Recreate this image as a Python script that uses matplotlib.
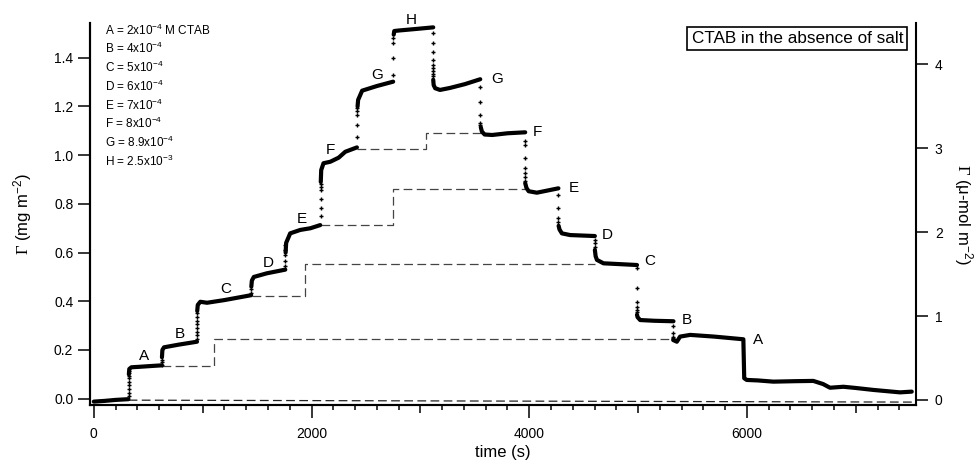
import matplotlib
matplotlib.use("Agg")
import matplotlib.pyplot as plt
from matplotlib.ticker import MultipleLocator

plt.rcParams['font.family'] = ['Liberation Sans', 'DejaVu Sans']
plt.rcParams['mathtext.fontset'] = 'custom'
plt.rcParams['mathtext.rm'] = 'Liberation Sans'
plt.rcParams['mathtext.it'] = 'Liberation Sans:italic'
plt.rcParams['mathtext.bf'] = 'Liberation Sans:bold'
plt.rcParams['mathtext.sf'] = 'Liberation Serif'

# ---------------- data (time in s, adsorbed amount in mg m^-2) ----------------
# solid plateaus (adsorption branch)
seg_base_t = [0, 100, 200, 318]
seg_base_y = [-0.012, -0.009, -0.005, -0.002]
seg_A_t = [322, 326, 345, 420, 520, 625]
seg_A_y = [0.100, 0.122, 0.129, 0.131, 0.134, 0.137]
seg_B_t = [626, 630, 645, 780, 948]
seg_B_y = [0.170, 0.200, 0.211, 0.222, 0.234]
seg_C_t = [950, 955, 978, 1040, 1200, 1445]
seg_C_y = [0.360, 0.385, 0.398, 0.394, 0.405, 0.425]
seg_D_t = [1447, 1452, 1470, 1590, 1759]
seg_D_y = [0.460, 0.485, 0.500, 0.515, 0.530]
seg_E_t = [1762, 1767, 1804, 1896, 1990, 2080]
seg_E_y = [0.600, 0.640, 0.679, 0.693, 0.700, 0.713]
seg_F_t = [2085, 2089, 2110, 2172, 2250, 2310, 2417]
seg_F_y = [0.890, 0.939, 0.967, 0.973, 0.990, 1.014, 1.032]
seg_G_t = [2423, 2428, 2465, 2600, 2750]
seg_G_y = [1.200, 1.227, 1.265, 1.284, 1.302]
seg_H_t = [2755, 2760, 2800, 2950, 3118]
seg_H_y = [1.495, 1.510, 1.512, 1.518, 1.525]
# solid plateaus (desorption branch)
seg_G2_t = [3118, 3122, 3136, 3180, 3270, 3410, 3550]
seg_G2_y = [1.310, 1.288, 1.275, 1.268, 1.276, 1.292, 1.312]
seg_F2_t = [3555, 3565, 3590, 3660, 3800, 3963]
seg_F2_y = [1.115, 1.097, 1.085, 1.083, 1.090, 1.094]
seg_E2_t = [3963, 3975, 3995, 4070, 4268]
seg_E2_y = [0.885, 0.865, 0.852, 0.846, 0.864]
seg_D2_t = [4270, 4278, 4300, 4376, 4603]
seg_D2_y = [0.710, 0.695, 0.679, 0.672, 0.668]
seg_C2_t = [4603, 4610, 4622, 4682, 4990]
seg_C2_y = [0.611, 0.585, 0.570, 0.556, 0.549]
seg_B2_t = [4990, 4995, 5019, 5150, 5325]
seg_B2_y = [0.345, 0.335, 0.323, 0.320, 0.318]
seg_A2_t = [5322, 5356, 5386, 5478, 5700, 5967, 5975, 5998, 6100, 6243, 6450, 6610,
            6700, 6763, 6886, 7000, 7161, 7406, 7514]
seg_A2_y = [0.241, 0.234, 0.255, 0.262, 0.255, 0.244, 0.084, 0.077, 0.075, 0.070, 0.072,
            0.073, 0.060, 0.045, 0.049, 0.044, 0.036, 0.026, 0.029]

solid_t = [seg_base_t, seg_A_t, seg_B_t, seg_C_t, seg_D_t, seg_E_t, seg_F_t, seg_G_t, seg_H_t,
           seg_G2_t, seg_F2_t, seg_E2_t, seg_D2_t, seg_C2_t, seg_B2_t, seg_A2_t]
solid_y = [seg_base_y, seg_A_y, seg_B_y, seg_C_y, seg_D_y, seg_E_y, seg_F_y, seg_G_y, seg_H_y,
           seg_G2_y, seg_F2_y, seg_E2_y, seg_D2_y, seg_C2_y, seg_B2_y, seg_A2_y]

# sparse points recorded during the concentration switches
jump_t = [320, 625, 948, 1447, 1760, 2083, 2420, 2752, 3118, 3552, 3963, 4268, 4603, 4990, 5325]
jump_y = [
    [0.010, 0.025, 0.040, 0.055, 0.070, 0.085, 0.095, 0.105, 0.115],
    [0.140, 0.150, 0.160],
    [0.245, 0.260, 0.275, 0.290, 0.305, 0.320, 0.335, 0.350],
    [0.435, 0.450],
    [0.545, 0.565, 0.590, 0.610, 0.630],
    [0.750, 0.785, 0.819, 0.857, 0.870, 0.880],
    [1.076, 1.124, 1.165, 1.180, 1.193],
    [1.330, 1.398, 1.460, 1.480],
    [1.500, 1.460, 1.425, 1.391, 1.370, 1.357, 1.345, 1.335, 1.325],
    [1.280, 1.220, 1.165, 1.131, 1.122],
    [1.060, 1.042, 0.987, 0.946, 0.926, 0.910, 0.895],
    [0.837, 0.782, 0.741, 0.725],
    [0.652, 0.640, 0.625],
    [0.535, 0.453, 0.398, 0.378, 0.365, 0.355],
    [0.300, 0.268, 0.255, 0.248],
]

# dashed guide lines: ascending level -> matching descending level
dash_base_t = [320, 7553]
dash_base_y = [-0.006, -0.014]
dash_start = [625, 1453, 2090, 2417]
dash_jump = [1107, 1942, 2748, 3053]
dash_end = [5325, 4603, 3960, 3555]
dash_low = [0.134, 0.422, 0.713, 1.024]
dash_high = [0.244, 0.553, 0.861, 1.092]

# step labels
lab_up = ['A', 'B', 'C', 'D', 'E', 'F', 'G', 'H']
lab_up_t = [458, 794, 1208, 1605, 1912, 2172, 2600, 2916]
lab_up_y = [0.175, 0.266, 0.449, 0.556, 0.738, 1.021, 1.329, 1.555]
lab_dn = ['G', 'F', 'E', 'D', 'C', 'B', 'A']
lab_dn_t = [3703, 4076, 4406, 4718, 5111, 5448, 6105]
lab_dn_y = [1.313, 1.094, 0.864, 0.672, 0.566, 0.323, 0.241]

legend_lines = [r"A = 2x10$^{-4}$ M CTAB", r"B = 4x10$^{-4}$", r"C = 5x10$^{-4}$",
                r"D = 6x10$^{-4}$", r"E = 7x10$^{-4}$", r"F = 8x10$^{-4}$",
                r"G = 8.9x10$^{-4}$", r"H = 2.5x10$^{-3}$"]

xticks = [0, 1000, 2000, 3000, 4000, 5000, 6000, 7000]
xticklabels = ['0', '', '2000', '', '4000', '', '6000', '']
yticks_left = [0.0, 0.2, 0.4, 0.6, 0.8, 1.0, 1.2, 1.4]
yticks_right = [0, 1, 2, 3, 4]

# ---------------- figure ----------------
W, H = 978, 461
fig = plt.figure(figsize=(W / 100, H / 100), dpi=100)
L, R, B, T = 90, 916, 405, 23
ax = fig.add_axes([L / W, 1 - B / H, (R - L) / W, (B - T) / H])
ax2 = ax.twinx()

ax.set_xlim(-35, 7553)
ax.set_ylim(-0.0259, 1.5429)
ax2.set_ylim(-0.0596, 4.492)

for ts, ys in zip(solid_t, solid_y):
    ax.plot(ts, ys, color='black', lw=3.0, solid_capstyle='round', solid_joinstyle='round',
            zorder=4)
for tj, yj in zip(jump_t, jump_y):
    ax.plot([tj] * len(yj), yj, linestyle='none', marker='+', ms=3.2, mew=1.0,
            color='black', zorder=4)

ax.plot(dash_base_t, dash_base_y, color='#222222', lw=0.9, dashes=(7, 3.5), zorder=3)
for s, j, e, lo, hi in zip(dash_start, dash_jump, dash_end, dash_low, dash_high):
    ax.plot([s, j, j, e], [lo, lo, hi, hi], color='#444444', lw=0.9, dashes=(7, 3.5),
            zorder=3)

for lab, t, y in zip(lab_up, lab_up_t, lab_up_y):
    ax.text(t, y, lab, fontsize=11, ha='center', va='center', clip_on=False)
for lab, t, y in zip(lab_dn, lab_dn_t, lab_dn_y):
    ax.text(t, y, lab, fontsize=11, ha='center', va='center', clip_on=False)

for i, line in enumerate(legend_lines):
    ax.text(0.018, 0.9817 - i * 0.0491, line, transform=ax.transAxes, fontsize=8.5,
            ha='left', va='center')

ax.text(0.8565, 0.959, "CTAB in the absence of salt", transform=ax.transAxes, fontsize=12.3,
        ha='center', va='center',
        bbox=dict(boxstyle='square,pad=0.25', fc='white', ec='black', lw=1.2))

# spines
for a in (ax, ax2):
    a.spines['top'].set_visible(False)
    for s in ('left', 'right', 'bottom'):
        a.spines[s].set_linewidth(1.5)
ax.spines['right'].set_visible(False)

ax.set_xticks(xticks)
ax.set_xticklabels(xticklabels)
ax.xaxis.set_minor_locator(MultipleLocator(200))
ax.tick_params(axis='x', which='major', direction='out', length=9.5, width=1.1, labelsize=10,
               pad=6)
ax.tick_params(axis='x', which='minor', direction='out', length=3.6, width=1.1)
ax.set_yticks(yticks_left)
ax.set_yticklabels([f"{v:.1f}" for v in yticks_left])
ax.tick_params(axis='y', which='major', direction='out', length=9, width=1.1, labelsize=10,
               pad=3)
ax2.set_yticks(yticks_right)
ax2.tick_params(axis='y', which='major', direction='out', length=8.5, width=1.1, labelsize=10,
                pad=5)
for tk, loc in zip(ax.xaxis.get_major_ticks(), xticks):
    if loc % 2000 != 0:
        tk.tick1line.set_markersize(6)

fig.text((L + R) / 2 / W, 1 - 452 / H, "time (s)", fontsize=12, ha='center', va='center')
fig.text(23 / W, 1 - 214 / H, r"$\mathsf{\Gamma}$ (mg m$^{-2}$)", fontsize=12, rotation=90,
         ha='center', va='center')
fig.text(963 / W, 1 - 214 / H, r"$\mathsf{\Gamma}$ (μ-mol m$^{-2}$)", fontsize=12,
         rotation=270, ha='center', va='center')

fig.savefig("out.png", dpi=100)
